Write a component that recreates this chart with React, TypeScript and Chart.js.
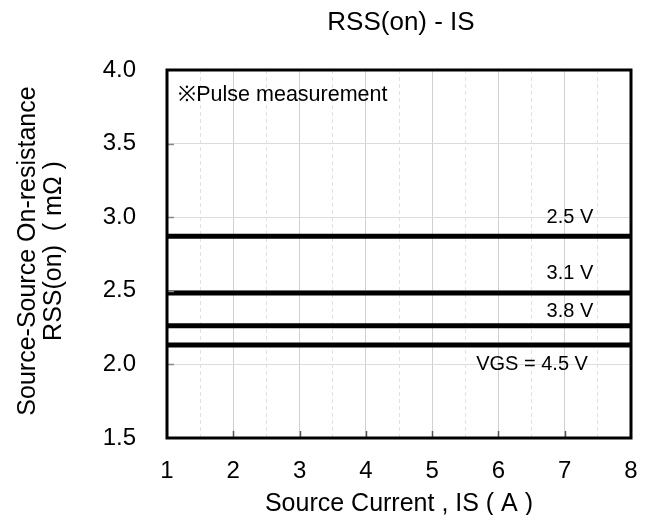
import React, { useEffect, useRef } from "react";
import { Chart, registerables } from "chart.js";

Chart.register(...registerables);

const xRange = [1, 8];
const yRange = [1.5, 4.0];
const seriesNames = ["2.5 V", "3.1 V", "3.8 V", "VGS = 4.5 V"];
const seriesValues = [2.87, 2.485, 2.263, 2.132];
const labelX = [7.43, 7.43, 7.43, 7.35];
const labelY = [3.0, 2.62, 2.36, 2.0];
const noteText = "※Pulse measurement";
const noteX = 1.17;
const noteY = 3.83;
const chartTitle = "RSS(on) - IS";
const xTitle = "Source Current , IS ( A )";
const yTitle1 = "Source-Source On-resistance";
const yTitle2 = "RSS(on)  ( mΩ )";

const FONT = "Arial, 'Liberation Sans', sans-serif";

export default function App() {
  const ref = useRef<HTMLCanvasElement | null>(null);
  useEffect(() => {
    if (!ref.current) return;
    const overlay = {
      id: "overlay",
      afterDraw(chart: any) {
        const { ctx, chartArea: a, scales } = chart;
        const xs = scales.x;
        const ys = scales.y;
        ctx.save();
        // tick marks
        ctx.strokeStyle = "#555";
        ctx.lineWidth = 1.5;
        for (let v = 2; v <= 7; v++) {
          const px = Math.round(xs.getPixelForValue(v)) + 0.5;
          ctx.beginPath();
          ctx.moveTo(px, a.bottom);
          ctx.lineTo(px, a.bottom - 7);
          ctx.stroke();
        }
        ctx.strokeStyle = "#888";
        for (let v = 2.0; v < 4.0; v += 0.5) {
          const py = Math.round(ys.getPixelForValue(v)) + 0.5;
          ctx.beginPath();
          ctx.moveTo(a.left, py);
          ctx.lineTo(a.left + 7, py);
          ctx.stroke();
        }
        // border
        ctx.strokeStyle = "#000";
        ctx.lineWidth = 3;
        ctx.strokeRect(a.left, a.top, a.right - a.left, a.bottom - a.top);
        // texts
        ctx.fillStyle = "#000";
        ctx.font = `20px ${FONT}`;
        ctx.textBaseline = "middle";
        ctx.textAlign = "right";
        seriesNames.forEach((n, i) => {
          ctx.fillText(n, xs.getPixelForValue(labelX[i]), ys.getPixelForValue(labelY[i]));
        });
        ctx.font = `21.5px ${FONT}`;
        ctx.textAlign = "left";
        ctx.fillText(noteText, xs.getPixelForValue(noteX), ys.getPixelForValue(noteY));
        ctx.textBaseline = "alphabetic";
        ctx.textAlign = "center";
        ctx.font = `26px ${FONT}`;
        ctx.fillText(chartTitle, (a.left + a.right) / 2 + 2, 22);
        ctx.font = `25px ${FONT}`;
        ctx.fillText(xTitle, (a.left + a.right) / 2, 503);
        ctx.save();
        ctx.translate(27, 243);
        ctx.rotate(-Math.PI / 2);
        ctx.fillText(yTitle1, 0, 0);
        ctx.restore();
        ctx.save();
        ctx.translate(53, 243);
        ctx.rotate(-Math.PI / 2);
        ctx.fillText(yTitle2, 0, 0);
        ctx.restore();
        ctx.restore();
      },
    };
    const chart = new Chart(ref.current, {
      type: "line",
      data: {
        datasets: seriesNames.map((n, i) => ({
          label: n,
          data: [
            { x: xRange[0], y: seriesValues[i] },
            { x: xRange[1], y: seriesValues[i] },
          ],
          borderColor: "#000",
          borderWidth: 5,
          pointRadius: 0,
          fill: false,
        })),
      },
      options: {
        animation: false,
        responsive: true,
        maintainAspectRatio: false,
        layout: { padding: { top: 62, right: 6, left: 0, bottom: 0 } },
        plugins: { legend: { display: false }, title: { display: false }, tooltip: { enabled: false } },
        scales: {
          x: {
            type: "linear",
            min: xRange[0],
            max: xRange[1],
            afterFit: (s: any) => {
              s.height = 77;
              s.paddingLeft = 0;
              s.paddingRight = 0;
            },
            ticks: {
              stepSize: 0.5,
              padding: 19,
              color: "#000",
              font: { family: FONT, size: 24 },
              maxRotation: 0,
              autoSkip: false,
              callback: (v: any) => (Number.isInteger(v) ? String(v) : ""),
            },
            grid: {
              drawTicks: false,
              color: (c: any) => (c.tick && Number.isInteger(c.tick.value) ? "#d0d0d0" : "#e2e2e2"),
              lineWidth: 1,
            },
            border: {
              display: false,
              dash: (c: any) => (c.tick && !Number.isInteger(c.tick.value) ? [4, 3] : []),
            },
          },
          y: {
            type: "linear",
            min: yRange[0],
            max: yRange[1],
            afterFit: (s: any) => {
              s.width = 159;
              s.paddingTop = 0;
              s.paddingBottom = 0;
            },
            ticks: {
              stepSize: 0.5,
              padding: 31,
              color: "#000",
              font: { family: FONT, size: 24 },
              callback: (v: any) => Number(v).toFixed(1),
            },
            grid: { drawTicks: false, color: "#dcdcdc", lineWidth: 1 },
            border: { display: false },
          },
        },
      },
      plugins: [overlay],
    });
    return () => chart.destroy();
  }, []);
  return (
    <div style={{ width: 629, height: 507 }}>
      <canvas ref={ref} />
    </div>
  );
}
